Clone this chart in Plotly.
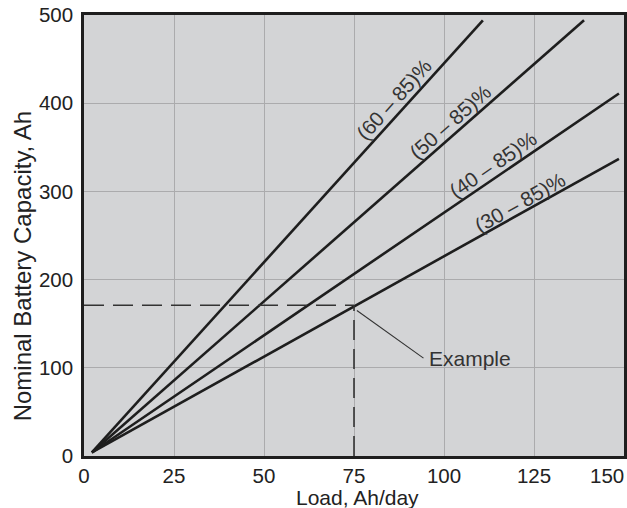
import plotly.graph_objects as go

# lines: common start point, end point per curve
start_load = 2.2
start_cap = 4
labels = ['(60 – 85)%', '(50 – 85)%', '(40 – 85)%', '(30 – 85)%']
end_load = [110.8, 138.9, 148.6, 148.6]
end_cap = [494, 494, 411, 337]

# where the rotated labels sit
label_load = [86.0, 101.8, 113.6, 121.0]
label_cap = [404, 379, 330, 287]
label_angle = [-48, -41.5, -34.5, -29.4]

# worked example
example_load = 75
example_cap = 171
leader_load = [75.8, 94.3]
leader_cap = [165, 111]
example_text_load = 95.3
example_text_cap = 110

x_ticks = [0, 25, 50, 75, 100, 125]
x_last_tick = 150
y_ticks = [0, 100, 200, 300, 400, 500]

ink = '#1e1e1e'
font = 'Liberation Sans, Arial, Helvetica, sans-serif'
fs = 20.5

fig = go.Figure()

for i, name in enumerate(labels):
    fig.add_trace(go.Scatter(x=[start_load, end_load[i]], y=[start_cap, end_cap[i]],
                             mode='lines', line=dict(color=ink, width=2.6), name=name))
    fig.add_annotation(x=label_load[i], y=label_cap[i], text=name, showarrow=False,
                       textangle=label_angle[i], font=dict(size=fs, color='#333'))

# dashed guide lines for the example
fig.add_trace(go.Scatter(x=[0, example_load], y=[example_cap, example_cap], mode='lines',
                         line=dict(color='#333', width=1.6, dash='20px,9px')))
fig.add_trace(go.Scatter(x=[example_load, example_load], y=[0, example_cap], mode='lines',
                         line=dict(color='#333', width=1.6, dash='20px,9px')))
fig.add_trace(go.Scatter(x=leader_load, y=leader_cap, mode='lines',
                         line=dict(color='#333', width=1.1)))
fig.add_annotation(x=example_text_load, y=example_text_cap, text='Example', showarrow=False,
                   xanchor='left', font=dict(size=21, color='#333'))

# last x label sits flush with the right edge, so place it by hand
fig.add_annotation(x=x_last_tick, y=0, yref='y', text=str(x_last_tick), showarrow=False,
                   xanchor='right', yanchor='top', yshift=-6, xshift=2,
                   font=dict(size=fs, color='#222'))

# axis titles placed by hand
fig.add_annotation(x=76, xref='x', y=0, yref='paper', text='Load, Ah/day', showarrow=False,
                   yanchor='middle', yshift=-41, font=dict(size=21, color='#222'))
fig.add_annotation(x=0, xref='paper', y=215, yref='y', text='Nominal Battery Capacity, Ah',
                   showarrow=False, textangle=-90, xanchor='center', xshift=-62,
                   font=dict(size=24, color='#222'))

fig.update_layout(
    width=627, height=508,
    margin=dict(l=84, r=3, t=15, b=52),
    paper_bgcolor='white', plot_bgcolor='#d3d4d6',
    showlegend=False, hovermode=False,
    font=dict(family=font, size=fs, color='#222'),
)
fig.update_xaxes(range=[0, 150], tickvals=x_ticks + [x_last_tick],
                 ticktext=[str(t) for t in x_ticks] + [''],
                 showgrid=True, gridcolor='#ababad',
                 gridwidth=1.3, zeroline=False, showline=True, linecolor=ink, linewidth=2.5,
                 mirror=True, ticks='', automargin=False, ticklabeloverflow='allow',
                 tickfont=dict(size=fs))
fig.update_yaxes(range=[0, 500], tickvals=y_ticks, showgrid=True, gridcolor='#ababad',
                 gridwidth=1.3, zeroline=False, showline=True, linecolor=ink, linewidth=2.5,
                 mirror=True, ticks='', automargin=False, ticklabelstandoff=4,
                 ticklabeloverflow='allow', tickfont=dict(size=fs))

# drop the default 8px body margin so the figure fills the window exactly
fig.write_html("out.html", config={'displayModeBar': False},
               post_script="document.body.style.margin='0';")
